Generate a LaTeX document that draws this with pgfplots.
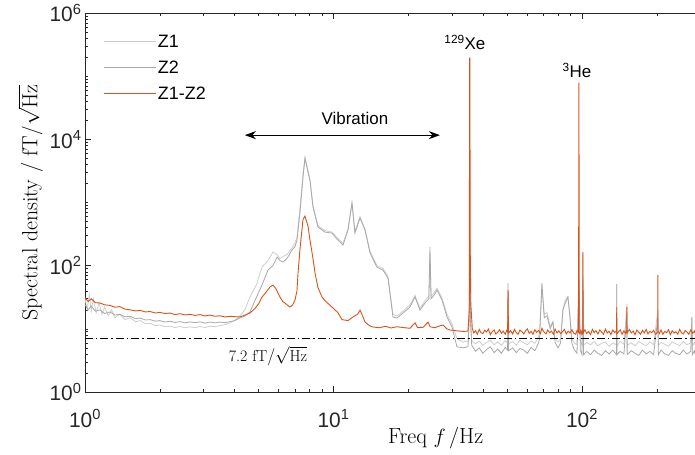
\documentclass[border=0pt]{standalone}
\usepackage{fontspec}
\usepackage{pgfplots}
\usepackage{pgfplotstable}
\pgfplotsset{compat=1.18}
\usetikzlibrary{arrows.meta, calc}
\newfontfamily\arial{Liberation Sans}
\newcommand\tickfont{\arial\fontsize{21}{24}\selectfont}
\newcommand\notefont{\arial\fontsize{17}{20}\selectfont}
\definecolor{zone}{HTML}{CDCDCD}
\definecolor{ztwo}{HTML}{A8A8A8}
\definecolor{zdiff}{HTML}{D95319}
\definecolor{axgray}{HTML}{262626}

% Z1
\pgfplotstableread{
f v
1.00 30
1.02 20
1.04 35
1.06 19
1.08 30
1.11 18
1.14 26
1.17 17
1.20 22
1.24 16
1.28 20
1.32 15
1.38 17
1.45 14
1.52 15
1.60 13
1.67 13.5
1.75 12
1.83 12.2
1.92 11.2
2.00 11.5
2.10 10.8
2.20 11
2.30 10.5
2.41 10.9
2.53 10.4
2.65 10.8
2.77 10.4
2.90 10.9
3.04 10.5
3.18 11
3.34 10.8
3.49 11.3
3.66 11.6
3.83 12.4
4.00 13.5
4.20 16
4.40 20
4.61 31.9
4.90 50
5.157 95
5.45 120
5.71 165
5.93 150
6.09 130
6.26 140
6.50 150
6.81 190
7.00 230
7.13 280
7.33 800
7.54 2800
7.68 5200
7.90 3200
8.04 2300
8.27 900
8.66 430
9.24 360
9.86 340
10.42 270
10.92 225
11.44 380
11.87 1000
12.2 350
12.79 600
13.39 380
14.03 170
14.96 100
15.82 90
16.57 68
17.35 17
18.01 16
19.04 19
20.32 24
21.28 34
22.29 21
23.35 28
24.2 33
24.45 150
24.7 33
25.5 38
26.09 44
27.33 31
28.62 17
29.98 12
31.4 7
33.2 6.2
34.77 6.4
35.2 30
35.4 250
35.6 20
36 6.5
37.3 5.8
38.6 6.4
39.9 5.5
41.3 6.1
42.8 6.6
44.3 5.6
45.8 6.2
47.4 5.5
49.1 6.5
50.2 5.9
50.4 40
50.6 5.8
52.6 6.3
54.4 5.5
56.3 6.6
58.3 6.0
60.3 5.6
62.4 6.4
64.6 5.9
66.9 7.5
67.5 9
69.0 45
70.5 17
72.3 18
74.5 11
76.4 13
78 7
80.1 6.2
82 7
83.8 20
85.5 28
87.8 32
89.5 16
91 7
93.0 6.0
95.5 5.6
97.2 60
98.5 6.4
100 5.5
100.9 150
101.5 5.5
104.5 6.1
108.2 5.6
112 6.3
115.9 5.4
120 5.9
124.2 6.2
128.5 5.3
133 6.0
137.8 5.6
138 51
138.2 5.4
142.5 6.3
147.5 5.7
151.7 25
152 5.5
158 6.0
163.5 5.4
169.2 6.3
175.2 5.8
181.3 5.4
187.6 6.2
194.2 5.6
202 20
203 5.4
208 6.1
215.3 5.7
222.9 5.3
230.7 6.2
238.7 5.8
247.1 5.4
255.8 6.3
264.7 5.6
274 6.0
277 15
278 5.4
283.6 6.1
285 5.5
}\zone

% Z2
\pgfplotstableread{
f v
1.00 24
1.03 20
1.06 23
1.10 19
1.15 20
1.20 17.5
1.26 18.5
1.32 16.5
1.38 17
1.45 15.5
1.52 15.8
1.60 14.5
1.67 14.8
1.75 13.8
1.83 14.0
1.92 13.2
2.00 13.5
2.10 12.8
2.20 13.2
2.30 12.6
2.41 13.0
2.53 12.4
2.65 12.9
2.77 12.5
2.90 12.9
3.04 12.3
3.18 12.8
3.34 12.4
3.49 12.8
3.66 12.5
3.83 13.0
4.00 13.5
4.20 14.8
4.40 16
4.61 18.4
4.83 28
5.16 50
5.45 85
5.70 100
5.93 137
6.09 120
6.26 114
6.50 130
6.81 177
7.00 200
7.13 254
7.33 679
7.54 2500
7.68 5000
7.90 3000
8.04 2261
8.27 846
8.66 408
9.24 340
9.86 328
10.42 254
10.92 212
11.44 366
11.87 979
12.2 328
12.79 567
13.39 366
14.03 158
14.96 95
15.82 85
16.57 63.7
17.35 15.4
18.01 14.8
19.04 17.8
20.32 22.1
21.28 31.9
22.29 19.8
23.35 25.6
24.2 30
24.45 197
24.7 30
25.5 35
26.09 41.1
27.33 28.6
28.62 15.4
29.98 10.7
31.4 5.2
33.2 5.0
34.77 5.2
35.2 15
35.4 250
35.6 12
36 5.5
37.3 4.4
38.6 5.0
39.9 4.1
41.3 4.7
42.8 5.2
44.3 4.2
45.8 4.8
47.4 4.1
49.1 5.1
50.2 4.6
50.4 53
50.6 4.5
52.6 5.0
54.4 4.2
56.3 4.9
58.3 4.6
60.3 4.1
62.4 5.1
64.6 4.5
66.9 6.0
67.5 7
69.0 53
70.5 15
72.3 16
74.5 10
76.4 12.8
78 6
80.1 5.0
82 6
83.8 19.8
85.5 25
87.8 32
89.5 15
91 6
93.0 4.7
95.5 4.1
97.2 60
98.5 4.6
100 3.9
100.9 60
101.5 3.9
104.5 4.4
108.2 3.9
112 4.6
115.9 4.1
120 3.8
124.2 4.5
128.5 4.0
133 4.6
137.8 3.9
138 51
138.2 3.9
142.5 4.4
147.5 4.0
151.7 18
152 3.9
158 4.5
163.5 4.1
169.2 3.8
175.2 4.6
181.3 4.0
187.6 4.4
194.2 3.9
202 15
203 3.9
208 4.6
215.3 4.0
222.9 3.8
230.7 4.5
238.7 4.1
247.1 3.9
255.8 4.6
264.7 4.0
274 4.4
277 15.4
278 3.9
283.6 4.5
285 4.0
}\ztwo

% Z1-Z2
\pgfplotstableread{
f v
1.000 31
1.03 27
1.06 30
1.10 26
1.15 25.6
1.20 24
1.26 23.5
1.32 22
1.38 22.5
1.45 20.5
1.52 20
1.60 19.2
1.67 19.6
1.75 18.5
1.83 18.8
1.92 17.8
2.00 18.2
2.10 17.5
2.20 17.8
2.30 16.8
2.41 17.4
2.53 16.6
2.65 17.0
2.77 16.3
2.90 16.8
3.04 16.0
3.18 16.5
3.34 15.8
3.49 16.1
3.66 15.4
3.83 15.8
4.00 15.6
4.20 15.4
4.40 16.5
4.61 17.8
4.83 21
5.00 25
5.16 31.9
5.35 38
5.55 45.9
5.71 49.3
5.85 44
6.09 31.9
6.25 27
6.38 25.6
6.55 23.5
6.68 22.1
6.85 24
7.00 28.6
7.13 40
7.20 76.3
7.33 180
7.54 540
7.68 609
7.90 420
8.04 254
8.27 130
8.43 76.3
8.66 45
8.99 31.9
9.24 28
9.86 22.1
10.42 18
10.82 14
11.44 13.5
11.98 15.4
12.5 17
12.79 19.8
13.1 16
13.39 12.8
14.03 11.1
14.42 10.7
15.3 10.4
16.2 11
17.0 10.3
18.0 10.8
19.0 10.5
20.3 10.2
21.3 12.4
21.8 10.4
23.0 10.6
24.0 12.8
24.5 10.8
25.5 10.4
26.5 11
27.6 11.5
28.6 10.0
29.4 9.6
31.4 9.3
33.2 9.1
34.77 9.2
35.2 20
35.3 1.93e5
35.4 1.93e5
35.5 200
35.7 25
36.2 10
36.7 8.6
37.3 9.3
37.9 8.2
38.6 9.8
39.2 8.7
39.9 8.4
40.6 9.5
41.3 8.9
42.0 9.9
42.8 8.1
43.5 9.0
44.3 9.6
45.0 8.3
45.8 8.8
46.6 9.7
47.4 8.5
48.2 9.2
49.1 8.2
49.8 9.5
50.2 9.0
50.4 41
50.6 8.6
51.6 9.4
52.6 8.3
53.5 9.8
54.4 8.7
55.3 8.2
56.3 9.6
57.3 9.0
58.3 8.3
59.3 9.3
60.3 10.0
61.3 8.5
62.4 9.1
63.5 8.2
64.6 9.7
65.7 8.8
66.9 9.4
68.0 8.4
69.0 10.2
70.3 8.9
71.6 8.3
72.8 9.6
74.1 8.7
75.4 9.2
76.7 8.2
78.0 9.9
79.4 8.6
80.7 9.3
82.1 8.4
83.5 9.0
85.0 9.8
86.5 8.3
88.0 9.2
89.5 8.6
91.1 9.7
92.7 8.5
94.3 8.2
95.6 9.5
96.9 8.8
97.15 7.75e4
97.25 7.75e4
97.5 9.0
98.2 8.4
99.0 9.5
99.8 8.3
100.7 9.4
100.9 164
101.1 8.6
102.8 9.7
104.5 8.4
106.3 9.1
108.2 8.1
110.1 9.8
112 8.7
113.9 9.3
115.9 8.3
118 9.6
120 8.9
122.1 8.2
124.2 9.9
126.3 8.6
128.5 9.2
130.7 8.1
133 9.6
135.4 8.7
137.8 9.4
138 22
138.2 8.3
140.3 9.0
142.5 9.7
145 8.2
147.5 9.3
149.5 8.5
151.5 9.4
151.7 22
151.9 8.5
155 9.8
158 8.6
160.8 9.2
163.5 8.1
166.3 9.6
169.2 8.8
172.2 8.2
175.2 9.5
178.2 8.6
181.3 9.8
184.4 8.3
187.6 9.1
190.9 8.7
194.2 9.5
198 8.2
201.8 8.9
202 71
202.2 9.2
205 8.4
208 9.6
211.6 8.2
215.3 9.1
219.1 8.7
222.9 9.7
226.8 8.1
230.7 9.3
234.7 8.6
238.7 9.0
242.9 8.2
247.1 9.8
251.4 8.7
255.8 8.3
260.2 9.4
264.7 8.9
269.3 8.2
274 9.6
278.8 8.5
283.6 9.2
285 8.6
}\zdiff

\begin{document}
\begin{tikzpicture}
\begin{axis}[
    name=ax,
    scale only axis,
    width=610bp, height=379bp,
    xmode=log, ymode=log,
    xmin=1, xmax=285, ymin=1, ymax=1e6,
    axis x line*=box, axis y line*=left,
    axis line style={axgray, line width=0.6bp},
    every tick/.style={axgray, line width=0.5bp},
    major tick length=6bp, minor tick length=3.5bp,
    xtick={1,10,100},
    xticklabels={10\textsuperscript{0},10\textsuperscript{1},10\textsuperscript{2}},
    minor xtick={2,3,4,5,6,7,8,9,20,30,40,50,60,70,80,90,200},
    ytick={1,100,10000,1000000},
    yticklabels={10\textsuperscript{0},10\textsuperscript{2},10\textsuperscript{4},10\textsuperscript{6}},
    minor ytick={2,3,4,5,6,7,8,9,10,20,30,40,50,60,70,80,90,200,300,400,500,600,700,800,900,1000,2000,3000,4000,5000,6000,7000,8000,9000,20000,30000,40000,50000,60000,70000,80000,90000,100000,200000,300000,400000,500000,600000,700000,800000,900000},
    ticklabel style={font=\tickfont, text=axgray},
    xticklabel style={anchor=base, yshift=-35bp},
    xlabel={Freq\ $f\,$/Hz},
    ylabel={Spectral density / fT$/\sqrt{\mathrm{Hz}}$},
    label style={font=\fontsize{22}{24}\selectfont},
    xlabel style={at={(axis description cs:0.575,0)}, anchor=base, yshift=-51bp},
    clip mode=individual,
    legend cell align=left,
    legend image code/.code={\draw[#1, line width=1bp] (0bp,0bp) -- (52bp,0bp);},
    legend style={at={(rel axis cs:0.03,0.948)}, anchor=north west, draw=none, fill=none,
        font=\arial\fontsize{18}{20}\selectfont, inner sep=0pt, row sep=8bp,
        nodes={inner sep=1.5bp, text height=13bp, text depth=2bp}},
]
\addplot[zone, line width=0.8bp] table {\zone};
\addlegendentry{Z1}
\addplot[ztwo, line width=0.8bp] table {\ztwo};
\addlegendentry{Z2}
\addplot[zdiff, line width=0.9bp] table {\zdiff};
\addlegendentry{Z1-Z2}
\addplot[black, line width=0.6bp, dash pattern=on 8bp off 3bp on 1.5bp off 3bp, forget plot]
    coordinates {(1,7.2) (285,7.2)};
\draw[black, line width=0.8bp, {Stealth[length=11bp,width=8bp]}-{Stealth[length=11bp,width=8bp]}]
    (axis cs:4.40,1.165e4) -- (axis cs:26.8,1.165e4);
\node[font=\notefont] at (axis cs:12.2,2.16e4) {Vibration};
\node[font=\notefont] at (axis cs:33.8,3.45e5) {\textsuperscript{129}Xe};
\node[font=\notefont] at (axis cs:95.5,1.245e5) {\textsuperscript{3}He};
\node[font=\fontsize{16}{18}\selectfont] at (axis cs:5.45,3.71) {7.2 fT$/\sqrt{\mathrm{Hz}}$};
\end{axis}
\pgfresetboundingbox
\path ($(ax.south west)+(-85bp,-63bp)$) rectangle ($(ax.north east)+(0bp,13bp)$);
\end{tikzpicture}
\end{document}
